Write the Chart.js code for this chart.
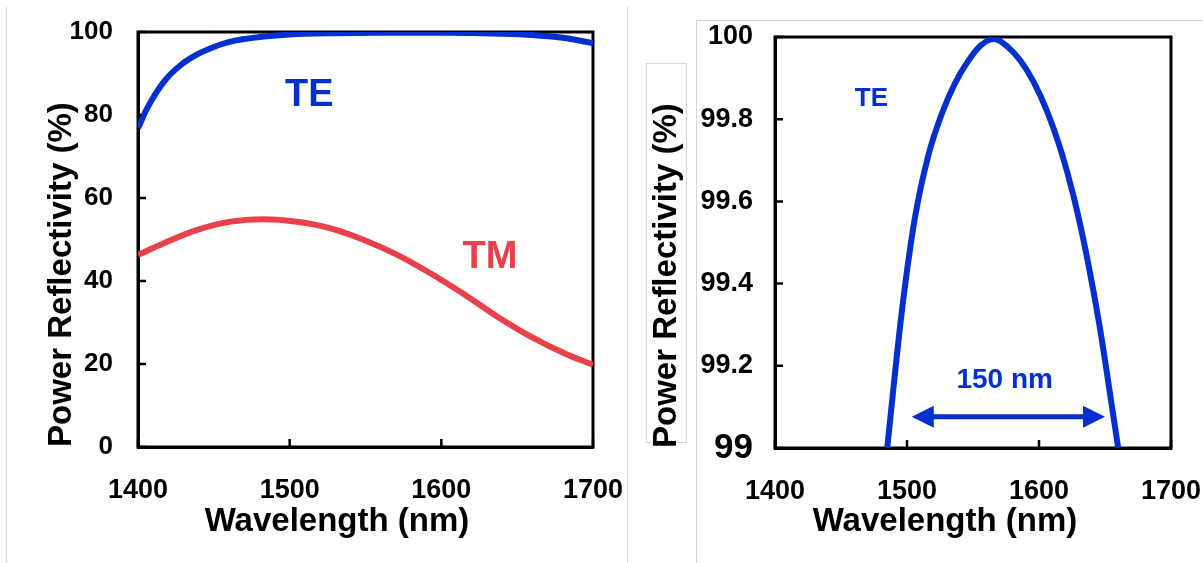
<!DOCTYPE html>
<html lang="en">
<head>
<meta charset="UTF-8">
<title>Power Reflectivity</title>
<script src="https://cdn.jsdelivr.net/npm/chart.js"></script>
<style>
  body { margin: 0; width: 1203px; height: 563px; position: relative; background: #fff; overflow: hidden; }
  canvas { position: absolute; top: 0; }
  #left { left: 0; }
  #right { left: 627px; }
  .rule { position: absolute; box-sizing: border-box; border: 1px solid #d6d6d6; }
</style>
</head>
<body>
<div class="rule" style="left:6px; top:7px; width:0; height:556px; border-width:0 0 0 1px;"></div>
<div class="rule" style="left:627px; top:7px; width:0; height:556px; border-width:0 0 0 1px;"></div>
<div class="rule" style="left:696px; top:20px; width:520px; height:560px; border-width:1px 0 0 1px;"></div>
<div class="rule" style="left:646px; top:63px; width:41px; height:380px;"></div>
<canvas id="left" width="627" height="563"></canvas>
<canvas id="right" width="576" height="563"></canvas>
<script>
// wavelength axis ticks (nm)
const wavelengthTicks = [1400, 1500, 1600, 1700];

// left panel: full range, TE and TM
const teWavelength = [1400, 1406, 1417, 1428, 1439, 1450, 1461, 1483, 1500, 1530, 1560, 1600, 1640, 1660, 1680, 1700];
const teReflect    = [76.8, 81.6, 88.0, 92.0, 94.6, 96.4, 97.7, 98.9, 99.4, 99.7, 99.8, 99.8, 99.6, 99.3, 98.6, 97.3];
const tmWavelength = [1400, 1417, 1439, 1461, 1483, 1505, 1527, 1549, 1571, 1593, 1615, 1637, 1659, 1681, 1700];
const tmReflect    = [46.3, 49.1, 52.3, 54.3, 54.9, 54.3, 52.7, 49.9, 46.3, 41.8, 36.8, 31.4, 26.6, 22.6, 19.8];

// right panel: zoom on the TE peak
const zoomWavelength = [1485, 1496, 1506, 1516, 1526, 1536, 1546, 1556, 1566, 1576, 1586, 1596, 1606, 1616, 1626, 1636, 1646, 1656, 1660];
const zoomReflect    = [99.0, 99.33, 99.56, 99.71, 99.81, 99.885, 99.94, 99.98, 99.995, 99.977, 99.942, 99.89, 99.82, 99.73, 99.615, 99.47, 99.295, 99.085, 99.0];

const FONT = '"Liberation Sans", Arial, Helvetica, sans-serif';
const BLUE = '#0430d0';
const RED = '#e8414a';

function pts(xs, ys) {
    return xs.map((x, i) => ({ x: x, y: ys[i] }));
}

function bold(size) {
    return { family: FONT, weight: 'bold', size: size };
}

// black box round the plot area, with short inward tick marks
const framePlugin = {
    id: 'frame',
    beforeDatasetsDraw(chart) {
        const { ctx, chartArea: a, scales: { x, y } } = chart;
        ctx.save();
        ctx.strokeStyle = '#000';
        ctx.lineWidth = 3;
        ctx.strokeRect(a.left, a.top, a.right - a.left, a.bottom - a.top);
        ctx.lineWidth = 2.5;
        ctx.beginPath();
        x.ticks.forEach(t => {
            const px = x.getPixelForValue(t.value);
            ctx.moveTo(px, a.bottom);
            ctx.lineTo(px, a.bottom - 8);
        });
        y.ticks.forEach(t => {
            const py = y.getPixelForValue(t.value);
            ctx.moveTo(a.left, py);
            ctx.lineTo(a.left + 8, py);
        });
        ctx.stroke();
        ctx.restore();
    }
};

// in-plot labels and the width arrow, placed in data units
const notesPlugin = {
    id: 'notes',
    afterDatasetsDraw(chart, args, opts) {
        const { ctx, scales: { x, y } } = chart;
        ctx.save();
        (opts.labels || []).forEach(l => {
            ctx.font = 'bold ' + l.size + 'px ' + FONT;
            ctx.fillStyle = l.color;
            ctx.textAlign = 'center';
            ctx.textBaseline = 'middle';
            ctx.fillText(l.text, x.getPixelForValue(l.x), y.getPixelForValue(l.y));
        });
        (opts.arrows || []).forEach(a => {
            const x1 = x.getPixelForValue(a.from);
            const x2 = x.getPixelForValue(a.to);
            const py = y.getPixelForValue(a.y);
            const head = 22, half = 11;
            ctx.strokeStyle = a.color;
            ctx.fillStyle = a.color;
            ctx.lineWidth = 5;
            ctx.beginPath();
            ctx.moveTo(x1 + head - 2, py);
            ctx.lineTo(x2 - head + 2, py);
            ctx.stroke();
            ctx.beginPath();
            ctx.moveTo(x1, py);
            ctx.lineTo(x1 + head, py - half);
            ctx.lineTo(x1 + head, py + half);
            ctx.closePath();
            ctx.fill();
            ctx.beginPath();
            ctx.moveTo(x2, py);
            ctx.lineTo(x2 - head, py - half);
            ctx.lineTo(x2 - head, py + half);
            ctx.closePath();
            ctx.fill();
        });
        ctx.restore();
    }
};

// invisible grid: tickLength only pushes the labels away from the frame
function hiddenGrid(len) {
    return { drawOnChartArea: false, drawTicks: true, tickLength: len, color: 'rgba(0,0,0,0)' };
}

function xAxis(height) {
    return {
        type: 'linear',
        min: 1400,
        max: 1700,
        afterBuildTicks: s => { s.ticks = wavelengthTicks.map(v => ({ value: v })); },
        afterFit: s => { s.height = height; },
        ticks: { font: bold(27), color: '#000', padding: 0, callback: v => String(v) },
        grid: hiddenGrid(27),
        border: { color: '#000', width: 3 }
    };
}

function yAxis(opts) {
    return {
        type: 'linear',
        min: opts.min,
        max: opts.max,
        afterFit: s => { s.width = opts.width; },
        ticks: {
            stepSize: opts.step,
            color: '#000',
            padding: 0,
            font: opts.font,
            callback: v => String(+Number(v).toFixed(1))
        },
        grid: hiddenGrid(opts.gap),
        border: { color: '#000', width: 3 },
        title: {
            display: true,
            text: 'Power Reflectivity (%)',
            align: 'start',
            color: '#000',
            font: bold(33),
            padding: { top: opts.titleOffset, bottom: 0 }
        }
    };
}

// empty right-hand axis that only reserves room to the right of the frame
function spacer(width) {
    return {
        type: 'linear',
        position: 'right',
        display: true,
        grid: { display: false },
        border: { display: false },
        ticks: { display: false },
        afterFit: s => { s.width = width; }
    };
}

const xTitle = {
    display: true,
    position: 'bottom',
    text: 'Wavelength (nm)',
    color: '#000',
    font: bold(33),
    padding: { top: 0, bottom: 21 }
};

new Chart(document.getElementById('left'), {
    type: 'line',
    data: {
        datasets: [
            { label: 'TE', data: pts(teWavelength, teReflect), borderColor: BLUE, borderWidth: 6,
              pointRadius: 0, cubicInterpolationMode: 'monotone' },
            { label: 'TM', data: pts(tmWavelength, tmReflect), borderColor: RED, borderWidth: 6,
              pointRadius: 0, cubicInterpolationMode: 'monotone' }
        ]
    },
    options: {
        responsive: false,
        animation: false,
        layout: { padding: { left: 47, right: 0, top: 32, bottom: 0 } },
        scales: {
            x: xAxis(55.4),
            y: yAxis({ min: 0, max: 100, step: 20, width: 91, gap: 25, font: bold(26), titleOffset: -5 }),
            y2: spacer(34)
        },
        plugins: {
            legend: { display: false },
            tooltip: { enabled: false },
            title: xTitle,
            notes: {
                labels: [
                    { text: 'TE', x: 1513, y: 84.6, size: 38, color: BLUE },
                    { text: 'TM', x: 1632, y: 45.6, size: 38, color: RED }
                ]
            }
        }
    },
    plugins: [framePlugin, notesPlugin]
});

new Chart(document.getElementById('right'), {
    type: 'line',
    data: {
        datasets: [
            { label: 'TE', data: pts(zoomWavelength, zoomReflect), borderColor: BLUE, borderWidth: 6,
              pointRadius: 0, cubicInterpolationMode: 'monotone' }
        ]
    },
    options: {
        responsive: false,
        animation: false,
        layout: { padding: { left: 60, right: 0, top: 37, bottom: 0 } },
        scales: {
            x: xAxis(54.4),
            y: yAxis({
                min: 99, max: 100, step: 0.2, width: 88, gap: 22,
                font: c => bold(c.tick && Math.abs(c.tick.value - 99) < 1e-6 ? 35 : 27),
                titleOffset: -40
            }),
            y2: spacer(32)
        },
        plugins: {
            legend: { display: false },
            tooltip: { enabled: false },
            title: xTitle,
            notes: {
                labels: [
                    { text: 'TE', x: 1473, y: 99.85, size: 26, color: BLUE },
                    { text: '150 nm', x: 1574, y: 99.165, size: 28, color: BLUE }
                ],
                arrows: [
                    { from: 1503.6, to: 1650, y: 99.076, color: BLUE }
                ]
            }
        }
    },
    plugins: [framePlugin, notesPlugin]
});
</script>
</body>
</html>
